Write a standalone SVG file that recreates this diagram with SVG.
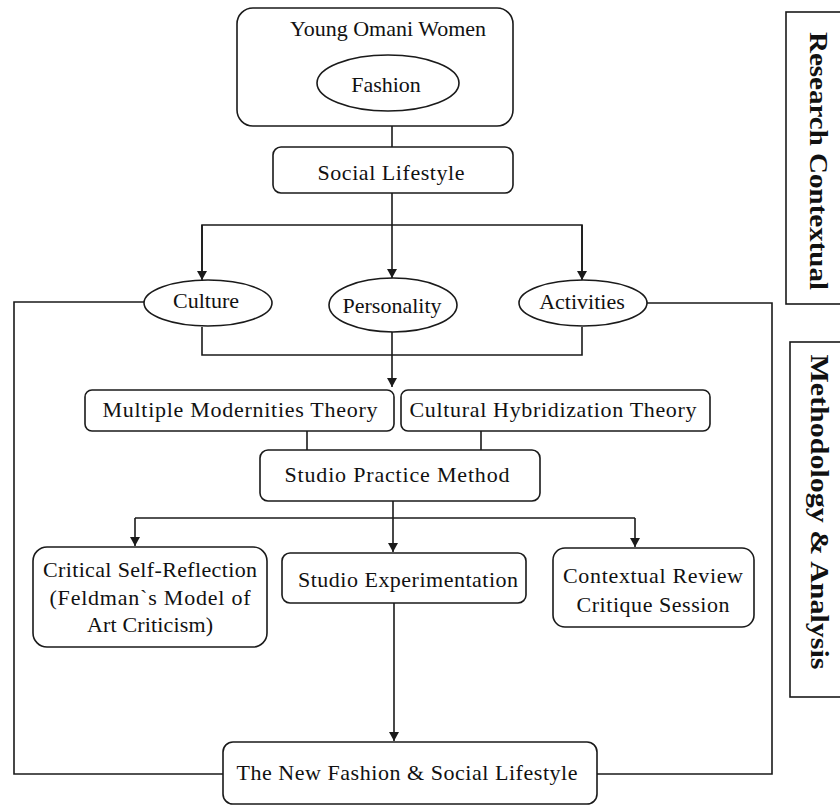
<svg xmlns="http://www.w3.org/2000/svg" width="840" height="805" viewBox="0 0 840 805">
<style>
.b{fill:#fff;stroke:#1a1a1a;stroke-width:1.6}
.c{fill:none;stroke:#1a1a1a;stroke-width:1.6}
.t{font-family:"Liberation Serif","Times New Roman",serif;font-size:22px;fill:#111;text-anchor:middle}
.s{font-family:"Liberation Serif","Times New Roman",serif;font-size:26px;font-weight:bold;fill:#111;text-anchor:middle}
</style>
<defs>
<marker id="ah" markerUnits="userSpaceOnUse" markerWidth="9" markerHeight="10" refX="9" refY="5" orient="auto">
<path d="M0,0 L9,5 L0,10 z" fill="#1a1a1a"/>
</marker>
</defs>
<rect width="840" height="805" fill="#fff"/>
<g id="connectors">
<line class="c" x1="392" y1="126" x2="392" y2="147"/>
<line class="c" x1="392" y1="193" x2="392" y2="278" marker-end="url(#ah)"/>
<polyline class="c" points="202,279 202,225 582,225 582,279" marker-start="none"/>
<line class="c" x1="202" y1="225" x2="202" y2="280" marker-end="url(#ah)"/>
<line class="c" x1="582" y1="225" x2="582" y2="280" marker-end="url(#ah)"/>
<polyline class="c" points="202,327 202,355 582,355 582,327"/>
<line class="c" x1="392" y1="332" x2="392" y2="387" marker-end="url(#ah)"/>
<line class="c" x1="307" y1="431" x2="307" y2="450"/>
<line class="c" x1="481" y1="431" x2="481" y2="450"/>
<line class="c" x1="393" y1="501" x2="393" y2="552" marker-end="url(#ah)"/>
<line class="c" x1="135" y1="518" x2="635" y2="518"/>
<line class="c" x1="135" y1="518" x2="135" y2="546" marker-end="url(#ah)"/>
<line class="c" x1="635" y1="518" x2="635" y2="547" marker-end="url(#ah)"/>
<line class="c" x1="394" y1="603" x2="394" y2="741" marker-end="url(#ah)"/>
<polyline class="c" points="144,302 14,302 14,774 223,774"/>
<polyline class="c" points="647,303 772,303 772,774 597,774"/>
</g>
<g id="n-young">
<rect class="b" x="237" y="8" width="276" height="118" rx="16"/>
<text class="t" x="388" y="36">Young Omani Women</text>
</g>
<g id="n-fashion">
<ellipse class="b" cx="388" cy="83" rx="71" ry="28"/>
<text class="t" x="386" y="92">Fashion</text>
</g>
<g id="n-social">
<rect class="b" x="273" y="147" width="240" height="46" rx="8"/>
<text class="t" x="391" y="180" textLength="147">Social Lifestyle</text>
</g>
<g id="n-culture">
<ellipse class="b" cx="208" cy="303" rx="64" ry="23"/>
<text class="t" x="206" y="308">Culture</text>
</g>
<g id="n-personality">
<ellipse class="b" cx="393" cy="305" rx="64" ry="27"/>
<text class="t" x="392" y="313">Personality</text>
</g>
<g id="n-activities">
<ellipse class="b" cx="583" cy="303" rx="64" ry="23"/>
<text class="t" x="582" y="309">Activities</text>
</g>
<g id="n-multiple">
<rect class="b" x="85" y="390" width="309" height="41" rx="7"/>
<text class="t" x="240" y="417" textLength="275">Multiple Modernities Theory</text>
</g>
<g id="n-cultural">
<rect class="b" x="401" y="390" width="309" height="41" rx="7"/>
<text class="t" x="553" y="417" textLength="287">Cultural Hybridization Theory</text>
</g>
<g id="n-studio-practice">
<rect class="b" x="260" y="450" width="280" height="51" rx="8"/>
<text class="t" x="397" y="482" textLength="225">Studio Practice Method</text>
</g>
<g id="n-critical">
<rect class="b" x="33" y="547" width="234" height="100" rx="14"/>
<text class="t" x="150" y="577" textLength="214">Critical Self-Reflection</text>
<text class="t" x="150" y="605" textLength="201">(Feldman`s Model of</text>
<text class="t" x="150" y="632" textLength="126">Art Criticism)</text>
</g>
<g id="n-studio-exp">
<rect class="b" x="282" y="553" width="244" height="50" rx="8"/>
<text class="t" x="408" y="587" textLength="220">Studio Experimentation</text>
</g>
<g id="n-contextual">
<rect class="b" x="553" y="548" width="201" height="79" rx="12"/>
<text class="t" x="653" y="583" textLength="180">Contextual Review</text>
<text class="t" x="653" y="612" textLength="153">Critique Session</text>
</g>
<g id="n-new">
<rect class="b" x="223" y="742" width="374" height="62" rx="10"/>
<text class="t" x="407" y="780" textLength="341">The New Fashion &amp; Social Lifestyle</text>
</g>
<g id="side-research">
<rect class="b" x="786" y="12" width="70" height="292"/>
<text class="s" transform="translate(810,161) rotate(90)" textLength="258" lengthAdjust="spacingAndGlyphs">Research Contextual</text>
</g>
<g id="side-method">
<rect class="b" x="790" y="342" width="70" height="355"/>
<text class="s" transform="translate(811,512) rotate(90)" textLength="315" lengthAdjust="spacingAndGlyphs">Methodology &amp; Analysis</text>
</g>
</svg>
